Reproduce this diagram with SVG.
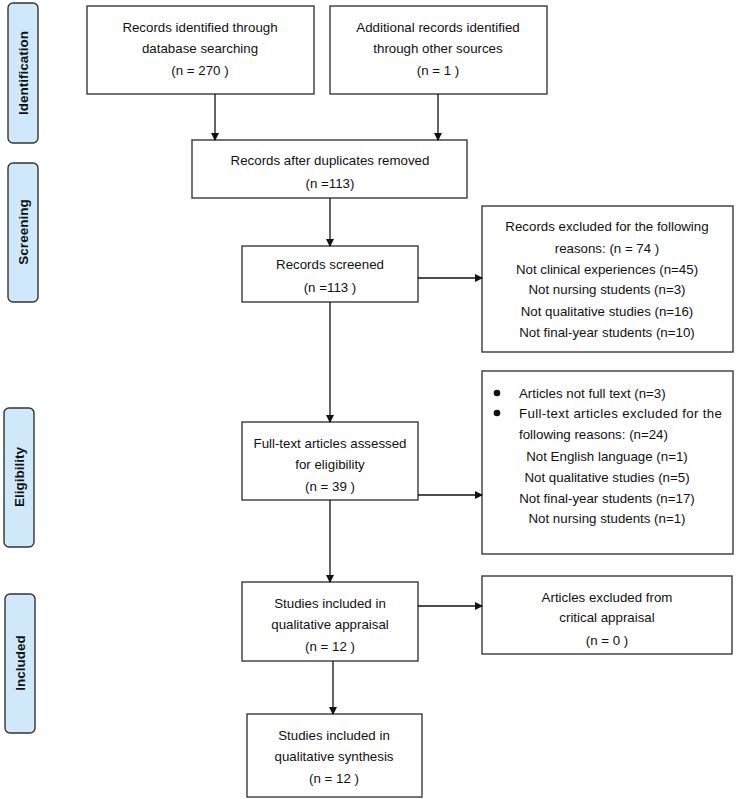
<svg xmlns="http://www.w3.org/2000/svg" width="736" height="799" viewBox="0 0 736 799">
<style>
.box{fill:#fff;stroke:#3a3a3a;stroke-width:1.4}
.side{fill:#cfe9fb;stroke:#333;stroke-width:1.4}
text{font-family:"Liberation Sans",Arial,sans-serif;font-size:13.3px;fill:#111}
.c{text-anchor:middle}
.s{font-weight:bold;font-size:13.5px;text-anchor:middle}
.ln{stroke:#111;stroke-width:1.3;fill:none;marker-end:url(#ah)}
</style>
<defs>
<marker id="ah" markerWidth="8" markerHeight="8" refX="7" refY="4" orient="auto" markerUnits="userSpaceOnUse">
<path d="M0,0 L8,4 L0,8 Z" fill="#111"/>
</marker>
</defs>
<rect width="736" height="799" fill="#fff"/>
<g id="side-identification"><rect class="side" x="8" y="3" width="30" height="140" rx="5"/><text class="s" transform="translate(28,73) rotate(-90)">Identification</text></g>
<g id="side-screening"><rect class="side" x="8" y="163" width="30" height="139" rx="5"/><text class="s" transform="translate(28,232) rotate(-90)">Screening</text></g>
<g id="side-eligibility"><rect class="side" x="4" y="408" width="30" height="139" rx="5"/><text class="s" transform="translate(24,477) rotate(-90)">Eligibility</text></g>
<g id="side-included"><rect class="side" x="5" y="594" width="30" height="139" rx="5"/><text class="s" transform="translate(25,663) rotate(-90)">Included</text></g>

<g id="n-database"><rect class="box" x="87" y="6" width="227" height="88"/>
<text class="c" x="200" y="32">Records identified through</text>
<text class="c" x="200" y="53">database searching</text>
<text class="c" x="200" y="75">(n = 270 )</text></g>
<g id="n-other"><rect class="box" x="330" y="6" width="217" height="88"/>
<text class="c" x="438" y="32">Additional records identified</text>
<text class="c" x="438" y="53">through other sources</text>
<text class="c" x="438" y="75">(n = 1 )</text></g>
<g id="n-dup"><rect class="box" x="192" y="140" width="275" height="58"/>
<text class="c" x="330" y="165">Records after duplicates removed</text>
<text class="c" x="330" y="188">(n =113)</text></g>
<g id="n-screened"><rect class="box" x="242" y="246" width="176" height="56"/>
<text class="c" x="330" y="269">Records screened</text>
<text class="c" x="330" y="292">(n =113 )</text></g>
<g id="n-excl1"><rect class="box" x="482" y="206" width="251" height="146"/>
<text class="c" x="607" y="231">Records excluded for the following</text>
<text class="c" x="607" y="253">reasons: (n = 74 )</text>
<text class="c" x="607" y="274">Not clinical experiences (n=45)</text>
<text class="c" x="607" y="294">Not nursing students (n=3)</text>
<text class="c" x="607" y="316">Not qualitative studies (n=16)</text>
<text class="c" x="607" y="337">Not final-year students (n=10)</text></g>
<g id="n-fulltext"><rect class="box" x="242" y="422" width="176" height="78"/>
<text class="c" x="330" y="448">Full-text articles assessed</text>
<text class="c" x="330" y="469">for eligibility</text>
<text class="c" x="330" y="491">(n = 39 )</text></g>
<g id="n-excl2"><rect class="box" x="482" y="371" width="251" height="183"/>
<circle cx="497" cy="393" r="3.3" fill="#111"/>
<circle cx="497" cy="413" r="3.3" fill="#111"/>
<text x="519" y="398">Articles not full text (n=3)</text>
<text x="519" y="418" textLength="203" lengthAdjust="spacing">Full-text articles excluded for the</text>
<text x="519" y="439">following reasons: (n=24)</text>
<text class="c" x="607" y="461">Not English language (n=1)</text>
<text class="c" x="607" y="482">Not qualitative studies (n=5)</text>
<text class="c" x="607" y="503">Not final-year students (n=17)</text>
<text class="c" x="607" y="523">Not nursing students (n=1)</text></g>
<g id="n-appraisal"><rect class="box" x="242" y="582" width="176" height="79"/>
<text class="c" x="330" y="608">Studies included in</text>
<text class="c" x="330" y="629">qualitative appraisal</text>
<text class="c" x="330" y="651">(n = 12 )</text></g>
<g id="n-excl3"><rect class="box" x="482" y="576" width="250" height="78"/>
<text class="c" x="607" y="602">Articles excluded from</text>
<text class="c" x="607" y="622">critical appraisal</text>
<text class="c" x="607" y="645">(n = 0 )</text></g>
<g id="n-synthesis"><rect class="box" x="247" y="714" width="175" height="83"/>
<text class="c" x="334" y="740">Studies included in</text>
<text class="c" x="334" y="761">qualitative synthesis</text>
<text class="c" x="334" y="783">(n = 12 )</text></g>

<g id="connectors">
<line class="ln" x1="215" y1="94" x2="215" y2="140"/>
<line class="ln" x1="438" y1="94" x2="438" y2="140"/>
<line class="ln" x1="330" y1="198" x2="330" y2="246"/>
<line class="ln" x1="418" y1="278" x2="482" y2="278"/>
<line class="ln" x1="330" y1="302" x2="330" y2="422"/>
<line class="ln" x1="418" y1="495" x2="482" y2="495"/>
<line class="ln" x1="330" y1="500" x2="330" y2="582"/>
<line class="ln" x1="418" y1="606" x2="482" y2="606"/>
<line class="ln" x1="333" y1="661" x2="333" y2="714"/>
</g>
</svg>
